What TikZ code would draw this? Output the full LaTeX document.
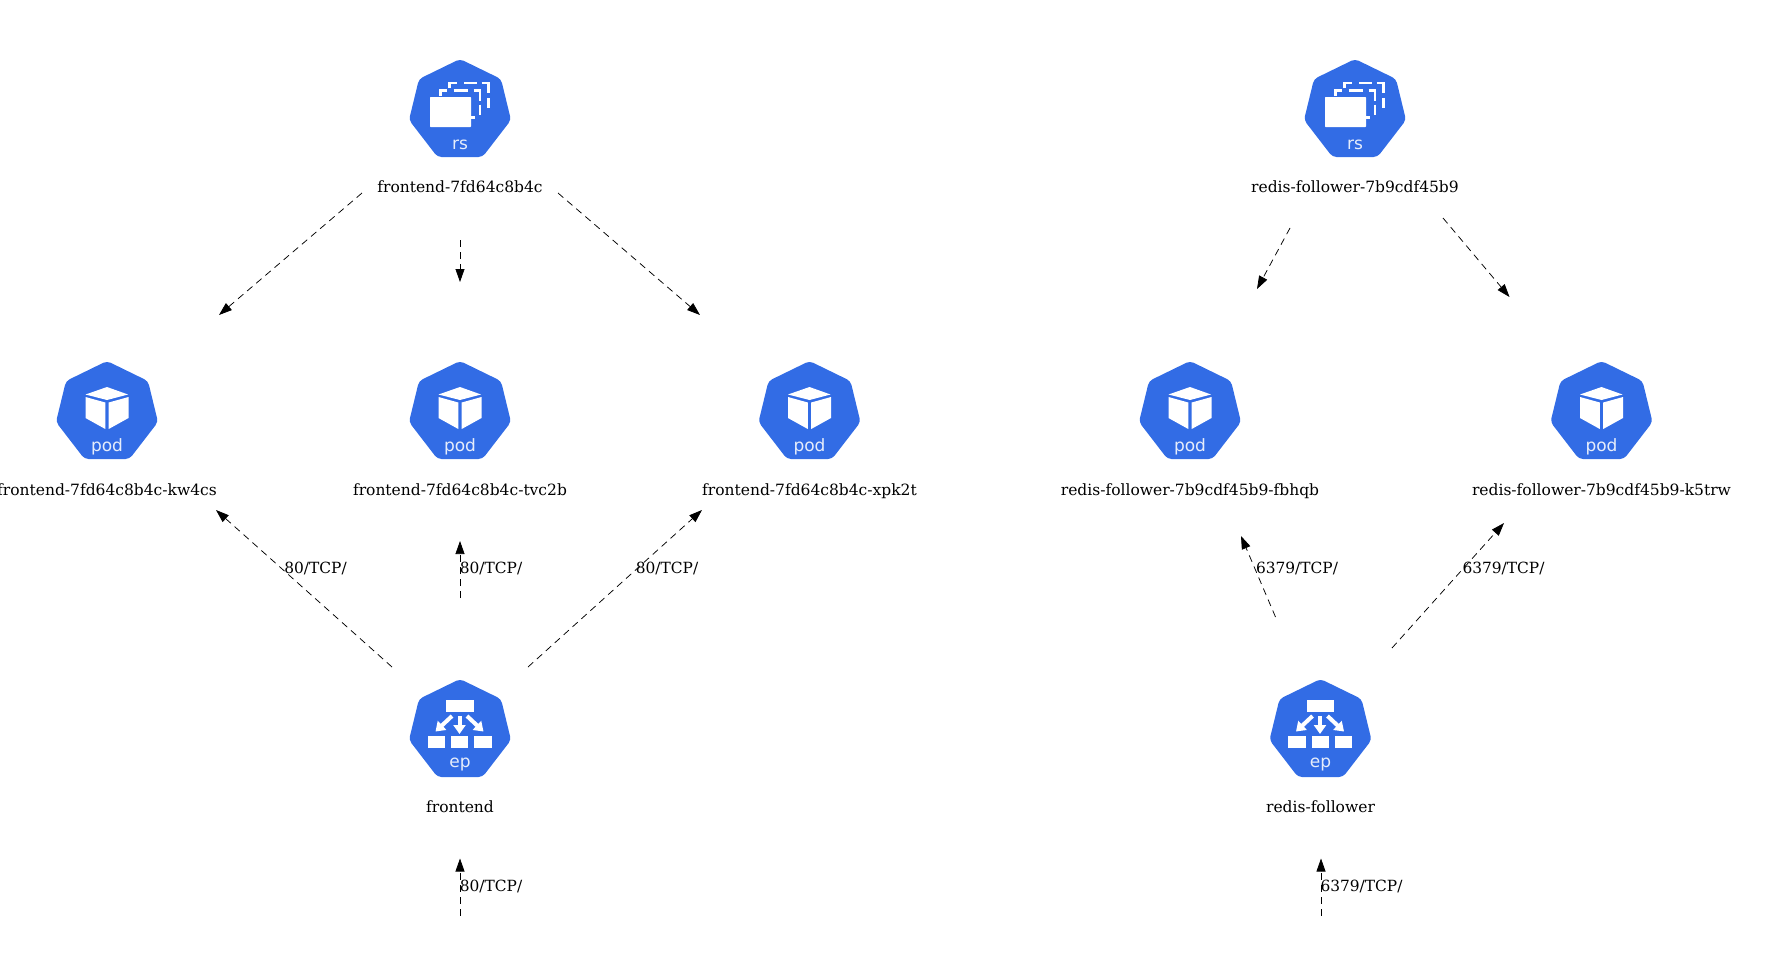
\documentclass[tikz,border=0pt]{standalone}
\usepackage{fontspec}
\newfontfamily\iconfont{DejaVu Sans}
\newfontfamily\labelfont{DejaVu Serif}
\usetikzlibrary{arrows.meta}
\definecolor{kblue}{HTML}{326CE5}
\definecolor{ktext}{HTML}{E6EDFB}
\tikzset{
  x=1pt,y=-1pt,
  flow/.style={draw=black,line width=0.75pt,dash pattern=on 7pt off 5pt,-{Triangle[length=13pt,width=9pt]}},
  name label/.style={font=\labelfont\fontsize{15.5}{18}\selectfont,inner sep=0pt,anchor=base},
  port label/.style={font=\labelfont\fontsize{15.4}{18}\selectfont,inner sep=0pt,anchor=base},
  hept/.style={fill=kblue,rounded corners=4pt},
  icon text/.style={font=\iconfont\fontsize{17}{19}\selectfont,text=ktext,inner sep=0pt},
  holder/.style={minimum size=96pt,inner sep=0pt},
  dashseg/.style={draw=white,line width=2.6pt},
  base/.pic={
    \path[hept] (0,-49) -- (41,-29) -- (51,12) -- (22.5,49) -- (-22.5,49) -- (-51,12) -- (-41,-29) -- cycle;
  },
  rsicon/.pic={
    \pic {base};
    \fill[white,rounded corners=0.7pt] (-30,-11) rectangle (11,19);
    % back frame
    \draw[dashseg] (-10.7,-20) -- (-10.7,-25) -- (-2.7,-25);
    \draw[dashseg] (4,-25) -- (16.7,-25);
    \draw[dashseg] (21.7,-25) -- (28.3,-25) -- (28.3,-15);
    \draw[dashseg] (28.3,-10) -- (28.3,0);
    % middle frame
    \draw[dashseg] (-19.5,-12) -- (-19.5,-17.5) -- (-13,-17.5);
    \draw[dashseg] (-6.5,-17.5) -- (7.5,-17.5);
    \draw[dashseg] (13.5,-17.5) -- (20,-17.5) -- (20,-6.7);
    \draw[dashseg] (20,-3.3) -- (20,6.7);
    \draw[dashseg] (11,9.5) -- (15,9.5);
    \node[icon text] (-t) at (0,36.5) {rs};
  },
  podicon/.pic={
    \pic {base};
    \fill[white] (0,-23) -- (21,-15.5) -- (0,-10) -- (-21.5,-15.5) -- cycle;
    \fill[white] (-21.5,-13) -- (-1.7,-7.5) -- (-1.7,19) -- (-21.5,8) -- cycle;
    \fill[white] (21.5,-13) -- (1.7,-7.5) -- (1.7,19) -- (21.5,8) -- cycle;
    \node[icon text] (-t) at (0,36.5) {pod};
  },
  epicon/.pic={
    \pic {base};
    \fill[white] (-14,-27.7) rectangle (13.5,-15.7);
    \fill[white] (-32.3,8) rectangle (-15,20);
    \fill[white] (-9,8) rectangle (8.3,20);
    \fill[white] (14.3,8) rectangle (31.7,20);
    \draw[white,line width=4pt,-{Triangle[length=9pt,width=12pt]}] (-0.5,-12) -- (-0.5,6);
    \draw[white,line width=4pt,-{Triangle[length=9pt,width=12pt]}] (-8,-12) -- (-24.5,3.5);
    \draw[white,line width=4pt,-{Triangle[length=9pt,width=12pt]}] (7,-12) -- (23.5,3.5);
    \node[icon text] (-t) at (0,36) {ep};
  },
}
\begin{document}
\begin{tikzpicture}
\useasboundingbox (0,0) rectangle (1788,962);
% icons
\node[holder] (rsA) at (460,108) {}; \pic (rsAi) at (rsA.center) {rsicon};
\node[holder] (rsB) at (1355,108) {}; \pic (rsBi) at (rsB.center) {rsicon};
\node[holder] (podA) at (107,410) {}; \pic (podAi) at (podA.center) {podicon};
\node[holder] (podB) at (460,410) {}; \pic (podBi) at (podB.center) {podicon};
\node[holder] (podC) at (809.5,410) {}; \pic (podCi) at (podC.center) {podicon};
\node[holder] (podD) at (1190,410) {}; \pic (podDi) at (podD.center) {podicon};
\node[holder] (podE) at (1601.5,410) {}; \pic (podEi) at (podE.center) {podicon};
\node[holder] (epA) at (460,728) {}; \pic (epAi) at (epA.center) {epicon};
\node[holder] (epB) at (1320.5,728) {}; \pic (epBi) at (epB.center) {epicon};
% names
\node[name label] (lrsA) at (460,192.7) {frontend-7fd64c8b4c};
\node[name label] (lrsB) at (1355,192.7) {redis-follower-7b9cdf45b9};
\node[name label] (lpodA) at (107,495) {frontend-7fd64c8b4c-kw4cs};
\node[name label] (lpodB) at (460,495) {frontend-7fd64c8b4c-tvc2b};
\node[name label] (lpodC) at (809.5,495) {frontend-7fd64c8b4c-xpk2t};
\node[name label] (lpodD) at (1190,495) {redis-follower-7b9cdf45b9-fbhqb};
\node[name label] (lpodE) at (1601.5,495) {redis-follower-7b9cdf45b9-k5trw};
\node[name label] (lepA) at (460,812.7) {frontend};
\node[name label] (lepB) at (1320.5,812.7) {redis-follower};
% connector ends
\coordinate (a1) at (362,193); \coordinate (a2) at (219,315);
\coordinate (b1) at (460,240); \coordinate (b2) at (460,282);
\coordinate (c1) at (558,193); \coordinate (c2) at (700,315);
\coordinate (d1) at (1290,228); \coordinate (d2) at (1257,289);
\coordinate (e1) at (1443,218); \coordinate (e2) at (1509.5,297);
\coordinate (f1) at (392,667); \coordinate (f2) at (216,510);
\coordinate (g1) at (460,598); \coordinate (g2) at (460,541);
\coordinate (h1) at (528,667); \coordinate (h2) at (702,510);
\coordinate (i1) at (1275.5,617); \coordinate (i2) at (1241,536);
\coordinate (j1) at (1392,648); \coordinate (j2) at (1504,523);
\coordinate (k1) at (460,915.5); \coordinate (k2) at (460,858.5);
\coordinate (l1) at (1321,915.5); \coordinate (l2) at (1321,858.5);
\foreach \s in {a,b,c,d,e,f,g,h,i,j,k,l} {\draw[flow] (\s1) -- (\s2);}
% port labels
\node[port label] (pf) at (315.5,573.3) {80/TCP/};
\node[port label] (pg) at (491,573.3) {80/TCP/};
\node[port label] (ph) at (667,573.3) {80/TCP/};
\node[port label] (pi) at (1297,573.3) {6379/TCP/};
\node[port label] (pj) at (1503.5,573.3) {6379/TCP/};
\node[port label] (pk) at (491,891.5) {80/TCP/};
\node[port label] (pl) at (1361.5,891.5) {6379/TCP/};
\end{tikzpicture}
\end{document}
